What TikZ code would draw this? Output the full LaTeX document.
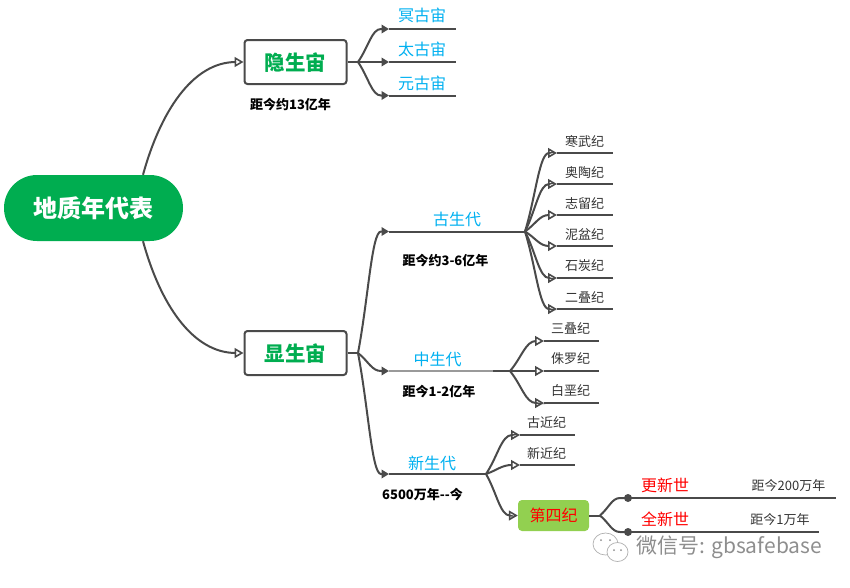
\documentclass[tikz,border=0pt]{standalone}
\usepackage{xcolor}
\usepackage{fontspec}
\setmainfont{Noto Sans CJK SC}
\usepackage{tikz}
\usetikzlibrary{arrows.meta,calc}
\definecolor{wirec}{HTML}{4A4A4A}
\definecolor{paleline}{HTML}{9A9A9A}
\definecolor{earth}{HTML}{00AD50}
\definecolor{sky}{HTML}{00B0F0}
\definecolor{leafgreen}{HTML}{92D050}
\definecolor{redtxt}{HTML}{FF0000}
\definecolor{darktxt}{HTML}{333333}
\definecolor{markgray}{HTML}{8E8E8E}
\tikzset{
  wire/.style={line width=2pt, draw=wirec},
  armopen/.style={wire, -{Triangle[open,length=9pt,width=10pt,line width=1.6pt]}},
  armfill/.style={wire, -{Triangle[length=7.5pt,width=8.5pt]}},
  rootbox/.style={fill=earth, rounded corners=33pt, minimum width=179pt, minimum height=66pt, inner sep=0pt, text=white, font=\fontsize{24}{24}\selectfont\bfseries},
  eonbox/.style={draw=wirec, line width=2pt, rounded corners=3pt, fill=white, minimum width=102pt, minimum height=44pt, inner sep=0pt, text=earth, text height=19pt, text depth=2pt, font=\fontsize{20.5}{21}\selectfont\bfseries},
  quatbox/.style={fill=leafgreen, rounded corners=4pt, minimum width=71pt, minimum height=31pt, inner sep=0pt, text=redtxt, font=\fontsize{16}{16}\selectfont},
  skytxt/.style={inner sep=0pt, text=sky, font=\fontsize{16}{16}\selectfont},
  redlabel/.style={inner sep=0pt, text=redtxt, font=\fontsize{16}{16}\selectfont},
  periodtxt/.style={inner sep=0pt, text=darktxt, font=\fontsize{13}{13}\selectfont},
  agetxt/.style={inner sep=0pt, text=black, font=\fontsize{13}{13}\selectfont\bfseries},
  dot/.style={circle, fill=wirec, inner sep=0pt, minimum size=8pt}
}
\newcommand{\Twig}[6]{% name,junction,xstart,xend,y,arm style
  \coordinate (#1a) at (#3,#5);
  \coordinate (#1b) at (#4,#5);
  \coordinate (#1h) at ($(#1a)+(-8,0)$);
  \coordinate (#1m) at ($(#2)!0.6!(#1h)$);
  \draw[wire] (#1a) -- (#1b);
  \draw[#6] (#2) .. controls ($(#2)!0.45!(#1h)$) and (#1m |- #1h) .. (#1h) -- (#1a);
}
\begin{document}
\begin{tikzpicture}[x=1pt,y=-1pt]
  \useasboundingbox (0,0) rectangle (850,587);

  \node[eonbox] (hide) at (295.5,62) {隐生宙};
  \node[eonbox] (show) at (295.5,353) {显生宙};
  \node[rootbox] (root) at (93.5,208) {地质年代表};
  \coordinate (rootup) at ($(root.north)+(49.5,0)$);
  \coordinate (rootdn) at ($(root.south)+(49.5,0)$);
  \draw[armopen] (rootup) .. controls (160,113) and (192,62) .. (236,62) -- (hide.west);
  \draw[armopen] (rootdn) .. controls (160,303) and (192,353) .. (236,353) -- (show.west);
  \node[agetxt] (hideage) at (290.5,104.5) {距今约13亿年};

  % hidden eon
  \coordinate (hidej) at (358,62);
  \draw[wire] (hide.east) -- (hidej);
  \Twig{ming}{hidej}{389}{456}{29}{armfill}
  \Twig{tai}{hidej}{389}{456}{62}{armfill}
  \Twig{yuan}{hidej}{389}{456}{95.5}{armfill}
  \node[skytxt] (mingt) at (422,15.5) {冥古宙};
  \node[skytxt] (tait) at (422,49.5) {太古宙};
  \node[skytxt] (yuant) at (422,83) {元古宙};

  % visible eon
  \coordinate (showj) at (358,353);
  \draw[wire] (show.east) -- (showj);
  \Twig{paleo}{showj}{389}{525}{231.5}{armfill}
  \Twig{meso}{showj}{389}{493}{371}{armfill}
  \Twig{ceno}{showj}{389}{486}{474}{armfill}
  \draw[line width=2pt, draw=paleline] (mesoa) -- (mesob);
  \node[skytxt] (paleot) at (457,219) {古生代};
  \node[skytxt] (mesot) at (437.5,359) {中生代};
  \node[skytxt] (cenot) at (432,463) {新生代};
  \node[agetxt] (paleoage) at (445.5,260.5) {距今约3-6亿年};
  \node[agetxt] (mesoage) at (439,391.5) {距今1-2亿年};
  \node[agetxt] (cenoage) at (422.5,494.5) {6500万年{-}{-}今};

  % paleozoic
  \Twig{cam}{paleob}{557}{613}{153}{armopen}
  \Twig{ord}{paleob}{557}{613}{184}{armopen}
  \Twig{sil}{paleob}{557}{613}{215}{armopen}
  \Twig{dev}{paleob}{557}{613}{246}{armopen}
  \Twig{car}{paleob}{557}{613}{278}{armopen}
  \Twig{per}{paleob}{557}{613}{309}{armopen}
  \node[periodtxt] (camt) at (584.5,142) {寒武纪};
  \node[periodtxt] (ordt) at (584.5,172.5) {奥陶纪};
  \node[periodtxt] (silt) at (584.5,203.5) {志留纪};
  \node[periodtxt] (devt) at (584.5,234.5) {泥盆纪};
  \node[periodtxt] (cart) at (584.5,266) {石炭纪};
  \node[periodtxt] (pert) at (584.5,297) {二叠纪};

  % mesozoic
  \coordinate (mesoj) at (510,371);
  \draw[wire] (mesob) -- (mesoj);
  \Twig{tri}{mesoj}{544}{599}{341}{armopen}
  \Twig{jur}{mesoj}{544}{599}{371}{armopen}
  \Twig{cre}{mesoj}{544}{599}{403}{armopen}
  \node[periodtxt] (trit) at (570.5,328) {三叠纪};
  \node[periodtxt] (jurt) at (570.5,359) {侏罗纪};
  \node[periodtxt] (cret) at (570.5,391) {白垩纪};

  % cenozoic
  \Twig{pal}{cenob}{520}{575}{435}{armopen}
  \Twig{neo}{cenob}{520}{575}{465}{armopen}
  \node[periodtxt] (palt) at (546.5,423) {古近纪};
  \node[periodtxt] (neot) at (546.5,453) {新近纪};
  \node[quatbox] (quat) at (553.5,515.5) {第四纪};
  \coordinate (quath) at ($(quat.west)+(-8,0)$);
  \coordinate (quatm) at ($(cenob)!0.6!(quath)$);
  \draw[armopen] (cenob) .. controls ($(cenob)!0.45!(quath)$) and (quatm |- quath) .. (quath) -- (quat.west);

  % quaternary
  \coordinate (quatj) at (600,515.5);
  \draw[wire] (quat.east) -- (quatj);
  \Twig{ple}{quatj}{628}{836}{498}{wire}
  \Twig{hol}{quatj}{628}{819}{532}{wire}
  \node[dot] (pled) at (plea) {};
  \node[dot] (hold) at (hola) {};
  \node[redlabel] (plet) at (665,485) {更新世};
  \node[redlabel] (holt) at (665,519) {全新世};
  \node[periodtxt] (pleage) at (788.5,486) {距今200万年};
  \node[periodtxt] (holage) at (780,520) {距今1万年};

  % watermark
  \draw[markgray!70, fill=white, line width=0.7pt] (605.5,544) ellipse (12.5 and 11);
  \draw[markgray!70, fill=white, line width=0.7pt] (617.5,552) ellipse (10.5 and 9.5);
  \fill[markgray] (601,540) circle (1) (610,540) circle (1) (614,550) circle (1) (621,550) circle (1);
  \node[inner sep=0pt, text=markgray, font=\fontsize{21}{21}\selectfont, anchor=west] (wechat) at (636,547) {微信号: gbsafebase};
\end{tikzpicture}
\end{document}
